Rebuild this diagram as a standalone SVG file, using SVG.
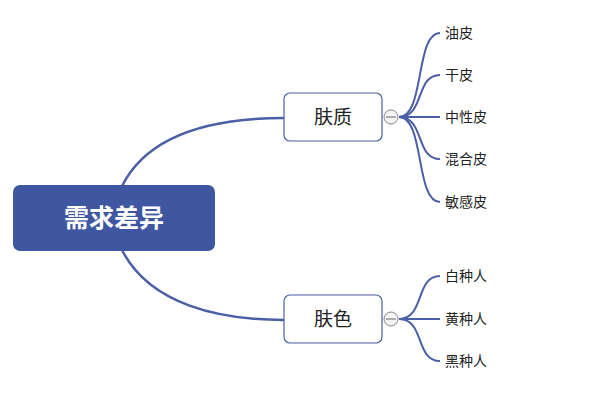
<svg xmlns="http://www.w3.org/2000/svg" width="600" height="400" viewBox="0 0 600 400">
<style>
.c{fill:none;stroke:#4a5fa6;stroke-width:2.5}
.l{fill:none;stroke:#4a5fa6;stroke-width:2}
.n{fill:#fff;stroke:#4a5fa6;stroke-width:1.2}
.t{font-family:"Noto Sans CJK SC",sans-serif;fill:#222}
.s{font-size:14px}
.m{font-size:19px}
</style>
<rect width="600" height="400" fill="#fff"/>
<g id="connectors">
<path class="c" d="M122,186 C150,130 220,118 284,118"/>
<path class="c" d="M122,250 C150,305 220,320 284,320"/>
<path class="l" d="M399,117 C425,117 415,33 440,33"/>
<path class="l" d="M399,117 C425,117 415,75 440,75"/>
<path class="l" d="M399,117 L440,117"/>
<path class="l" d="M399,117 C425,117 415,159 440,159"/>
<path class="l" d="M399,117 C425,117 415,202 440,202"/>
<path class="l" d="M399,319 C425,319 415,276 440,276"/>
<path class="l" d="M399,319 L440,319"/>
<path class="l" d="M399,319 C425,319 415,361 440,361"/>
</g>
<g id="root"><rect x="13" y="185" width="202" height="66" rx="7" fill="#3f57a1"/><text x="114" y="227" text-anchor="middle" class="t" style="font-size:25px;font-weight:bold;fill:#fff">需求差异</text></g>
<g id="fuzhi"><rect class="n" x="284" y="93" width="98" height="48" rx="6"/><text x="333" y="124" text-anchor="middle" class="t m">肤质</text><circle cx="391" cy="117" r="7" fill="#f4f4f4" stroke="#888"/><line x1="386" y1="117" x2="396" y2="117" stroke="#666"/></g>
<g id="fuse"><rect class="n" x="284" y="295" width="98" height="48" rx="6"/><text x="333" y="326" text-anchor="middle" class="t m">肤色</text><circle cx="391" cy="319" r="7" fill="#f4f4f4" stroke="#888"/><line x1="386" y1="319" x2="396" y2="319" stroke="#666"/></g>
<g id="l1"><text x="445" y="38" class="t s">油皮</text></g>
<g id="l2"><text x="445" y="80" class="t s">干皮</text></g>
<g id="l3"><text x="445" y="122" class="t s">中性皮</text></g>
<g id="l4"><text x="445" y="164" class="t s">混合皮</text></g>
<g id="l5"><text x="445" y="207" class="t s">敏感皮</text></g>
<g id="l6"><text x="445" y="281" class="t s">白种人</text></g>
<g id="l7"><text x="445" y="324" class="t s">黄种人</text></g>
<g id="l8"><text x="445" y="366" class="t s">黑种人</text></g>
</svg>
